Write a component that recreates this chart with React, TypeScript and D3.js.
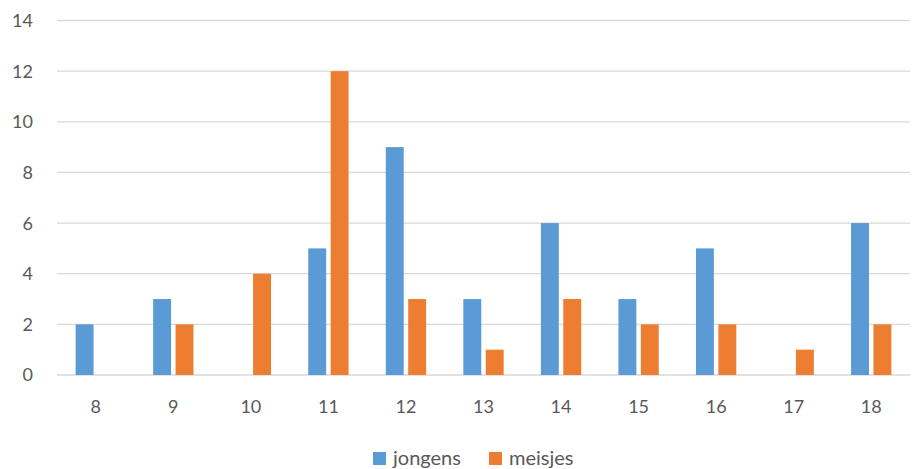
import React, { useEffect, useRef } from 'react';
import * as d3 from 'd3';

const AGES = ['8', '9', '10', '11', '12', '13', '14', '15', '16', '17', '18'];
const JONGENS = [2, 3, 0, 5, 9, 3, 6, 3, 5, 0, 6];
const MEISJES = [0, 2, 4, 12, 3, 1, 3, 2, 2, 1, 2];
const SERIES = ['jongens', 'meisjes'];
const COLORS = ['#5B9BD5', '#ED7D31'];
const Y_TICKS = [0, 2, 4, 6, 8, 10, 12, 14];

const W = 917;
const H = 469;
const MARGIN = { top: 20.5, right: 7, bottom: 94, left: 57 };
const FONT = 'Lato, "Open Sans", sans-serif';

const App = () => {
    const ref = useRef<SVGSVGElement>(null);

    useEffect(() => {
        const svg = d3.select(ref.current);
        svg.selectAll('*').remove();

        const innerW = W - MARGIN.left - MARGIN.right;
        const innerH = H - MARGIN.top - MARGIN.bottom;

        const g = svg.append('g')
            .attr('transform', 'translate(' + MARGIN.left + ',' + MARGIN.top + ')');

        const x0 = d3.scaleBand().domain(AGES).range([0, innerW]).paddingInner(0.48).paddingOuter(0.24);
        const x1 = d3.scaleBand().domain(SERIES).range([0, x0.bandwidth()]).paddingInner(0.2);
        const y = d3.scaleLinear().domain([0, 14]).range([innerH, 0]);

        // gridlines
        g.selectAll('line.grid')
            .data(Y_TICKS)
            .enter().append('line')
            .attr('class', 'grid')
            .attr('x1', 0)
            .attr('x2', innerW)
            .attr('y1', d => y(d))
            .attr('y2', d => y(d))
            .attr('stroke', '#D9D9D9')
            .attr('stroke-width', 1.3);

        // y labels
        g.selectAll('text.ylab')
            .data(Y_TICKS)
            .enter().append('text')
            .attr('class', 'ylab')
            .attr('x', -24)
            .attr('y', d => y(d))
            .attr('dy', '0.36em')
            .attr('text-anchor', 'end')
            .style('font-family', FONT)
            .style('font-size', '18px')
            .attr('fill', '#595959')
            .text(d => d);

        const data = AGES.map((a, i) => ({ age: a, values: [JONGENS[i], MEISJES[i]] }));

        const groups = g.selectAll('g.cat')
            .data(data)
            .enter().append('g')
            .attr('class', 'cat')
            .attr('transform', d => 'translate(' + x0(d.age) + ',0)');

        groups.selectAll('rect')
            .data(d => d.values.map((v, k) => ({ key: SERIES[k], v: v, c: COLORS[k] })))
            .enter().append('rect')
            .filter(d => d.v > 0)
            .attr('x', d => x1(d.key)!)
            .attr('width', x1.bandwidth())
            .attr('y', d => y(d.v))
            .attr('height', d => y(0) - y(d.v))
            .attr('fill', d => d.c);

        // x labels
        g.selectAll('text.xlab')
            .data(AGES)
            .enter().append('text')
            .attr('class', 'xlab')
            .attr('x', d => x0(d)! + x0.bandwidth() / 2)
            .attr('y', innerH + 38)
            .attr('text-anchor', 'middle')
            .style('font-family', FONT)
            .style('font-size', '18px')
            .attr('fill', '#595959')
            .text(d => d);

        // legend
        const legendX = [373, 489];
        SERIES.forEach((s, i) => {
            svg.append('rect')
                .attr('x', legendX[i])
                .attr('y', 452)
                .attr('width', 13)
                .attr('height', 13)
                .attr('fill', COLORS[i]);
            svg.append('text')
                .attr('x', legendX[i] + 20)
                .attr('y', 465)
                .style('font-family', FONT)
                .style('font-size', '20px')
                .attr('fill', '#595959')
                .text(s);
        });
    }, []);

    return (
        <svg ref={ref} width={W} height={H} style={{ position: 'absolute', left: 0, top: 0 }} />
    );
};

export default App;
